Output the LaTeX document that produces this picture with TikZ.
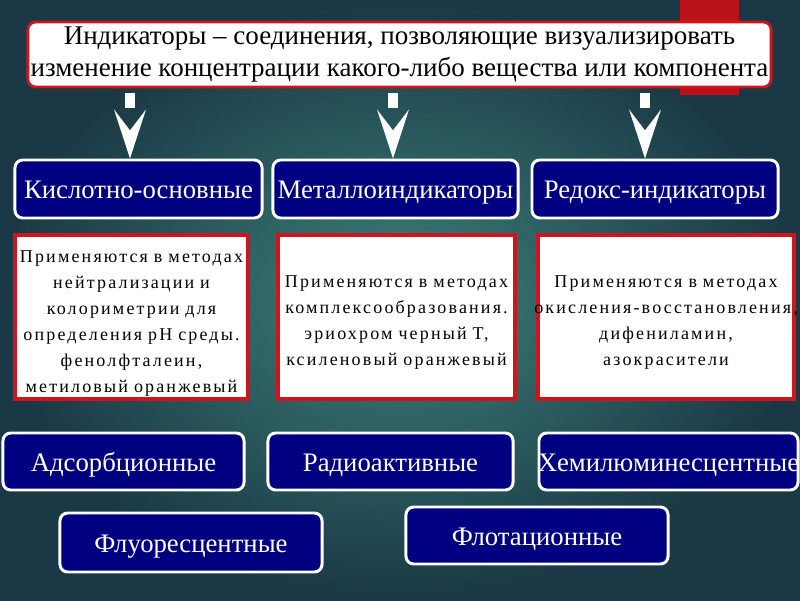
\documentclass[tikz,border=0pt]{standalone}
\usepackage{fontspec}
\setmainfont{Liberation Serif}
\newfontfamily\spacedfont[LetterSpace=12]{Liberation Serif}
\usetikzlibrary{calc}
\definecolor{bgin}{HTML}{3D8079}
\definecolor{bgout}{HTML}{1A3845}
\definecolor{navybox}{HTML}{000080}
\definecolor{redline}{HTML}{D0141C}
\tikzset{
  kind/.style={draw=white, line width=2.1pt, fill=navybox, rounded corners=5.5pt,
    text=white, font=\fontsize{19}{22}\selectfont, inner sep=0pt, align=center,
    text height=16pt, text depth=2pt},
  usebox/.style={draw=redline, line width=2.8pt, fill=white, inner sep=0pt,
    align=center, font=\spacedfont\fontsize{12.8}{18.5}\selectfont, minimum height=4.1cm},
}
\begin{document}
\begin{tikzpicture}[x=0.025cm, y=-0.025cm]
\useasboundingbox (0,0) rectangle (800,600);
\shade[inner color=bgin, outer color=bgout] (0,0) rectangle (800,600);
\fill[redline!90!black] (680,0) rectangle (739,95);

\node[draw=redline, line width=2pt, fill=white, rounded corners=5.5pt, inner sep=0pt,
  minimum width=18.575cm, minimum height=1.625cm, align=center,
  font=\fontsize{19.2}{22.8}\selectfont] (top) at (399.5,54.5)
  {Индикаторы – соединения, позволяющие визуализировать\\
   изменение концентрации какого-либо вещества или компонента};

\node[kind, text width=6.175cm, minimum height=1.45cm] (kis) at (138.5,189) {Кислотно-основные};
\node[kind, text width=6.125cm, minimum height=1.45cm] (met) at (395.5,189) {Металлоиндикаторы};
\node[kind, text width=6.15cm, minimum height=1.45cm] (red) at (655,189) {Редокс-индикаторы};

\foreach \x/\b in {130/kis,393/met,645/red} {
  \fill[white] ($(top.south -| \x,0)+(-5,5)$) rectangle ++(10,15);
  \fill[white] ($(top.south -| \x,0)+(-16,21)$) -- ++(16,21) -- ++(16,-21)
    -- (\b.north -| \x,0) -- cycle;
}

\node[usebox, text width=5.825cm, text height=19.2pt, text depth=97.4pt] (kisuse) at (131.5,317)
  {\makebox[\linewidth]{Применяются в методах}\\ нейтрализации и\\ колориметрии для\\
   определения рН среды.\\ фенолфталеин,\\ \makebox[\linewidth]{метиловый оранжевый}};
\node[usebox, text width=5.925cm, text height=37pt, text depth=79.6pt] (metuse) at (396.5,317)
  {\makebox[\linewidth]{Применяются в методах}\\ комплексообразования.\\ эриохром черный Т,\\
   \makebox[\linewidth]{ксиленовый оранжевый}};
\node[usebox, text width=6.4cm, text height=37pt, text depth=79.6pt] (reduse) at (666,317)
  {Применяются в методах\\ \makebox[\linewidth]{окисления-восстановления,}\\
   дифениламин,\\ азокрасители};

\node[kind, text width=6.025cm, minimum height=1.425cm] (ads) at (123.5,461.5) {Адсорбционные};
\node[kind, text width=6.125cm, minimum height=1.425cm] (rad) at (390.5,461.5) {Радиоактивные};
\node[kind, text width=6.475cm, minimum height=1.425cm] (hem) at (668.5,461.5)
  {\makebox[\linewidth]{Хемилюминесцентные}};
\node[kind, text width=6.55cm, minimum height=1.475cm] (flu) at (191,542.5) {Флуоресцентные};
\node[kind, text width=6.55cm, minimum height=1.425cm] (flo) at (537,535.5) {Флотационные};
\end{tikzpicture}
\end{document}
